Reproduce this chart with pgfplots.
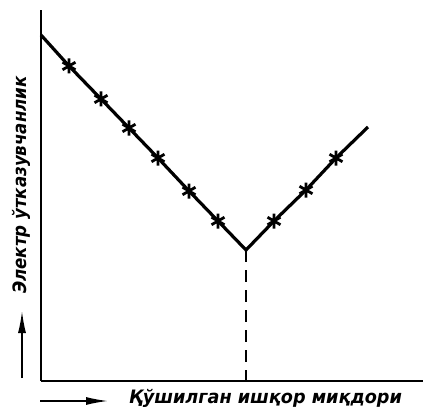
\documentclass[border=0pt]{standalone}
\usepackage{pgfplots}
\pgfplotsset{compat=1.18}
\usepackage{fontspec}
\usetikzlibrary{arrows.meta}
\newfontfamily\labfont{DejaVu Sans Condensed}[ItalicFont={DejaVu Sans Condensed Oblique},BoldItalicFont={DejaVu Sans Condensed Bold Oblique}]

\begin{document}
\begin{tikzpicture}
\begin{axis}[
    scale only axis,
    width=382pt, height=371pt,
    xmin=41, xmax=423,
    ymin=32, ymax=403,
    axis x line=bottom,
    axis y line=left,
    axis line style={-, line width=1.8pt},
    ticks=none,
    clip=false,
]
    % conductivity curve (pixel-like units)
    \addplot[line width=3.2pt, line join=miter] coordinates {
        (41,378) (69,347) (101,314) (129,285) (158,255) (189,222) (218,192)
        (246,163)
        (274,192) (306,223) (336,255) (368,286)
    };
    \addplot[only marks, mark=asterisk, mark size=7.5pt, mark options={line width=2.8pt}] coordinates {
        (69,347) (101,314) (129,285) (158,255) (189,222) (218,192)
        (274,192) (306,223) (336,255)
    };
    % equivalence point
    \addplot[line width=2pt, dash pattern=on 12pt off 8pt] coordinates {(246,163) (246,32)};

    \node[rotate=90, anchor=base, inner sep=0pt] at (axis cs:27,228) {\labfont\bfseries\itshape\fontsize{18.5}{20}\selectfont Электр ўтказувчанлик};
    \draw[line width=1.5pt, -{Latex[length=22pt,width=8pt]}] (axis cs:22,35) -- (axis cs:22,102);
    \node[anchor=base west, inner sep=0pt] at (axis cs:129,10) {\scalebox{1.06}[1]{\labfont\bfseries\itshape\fontsize{18.5}{20}\selectfont Қўшилган ишқор миқдори}};
    \draw[line width=1.5pt, -{Latex[length=22pt,width=8pt]}] (axis cs:40,12) -- (axis cs:108,12);
\end{axis}
\pgfresetboundingbox
\path (current axis.south west) ++(-41pt,-32pt) rectangle ++(423pt,413pt);
\end{tikzpicture}
\end{document}
